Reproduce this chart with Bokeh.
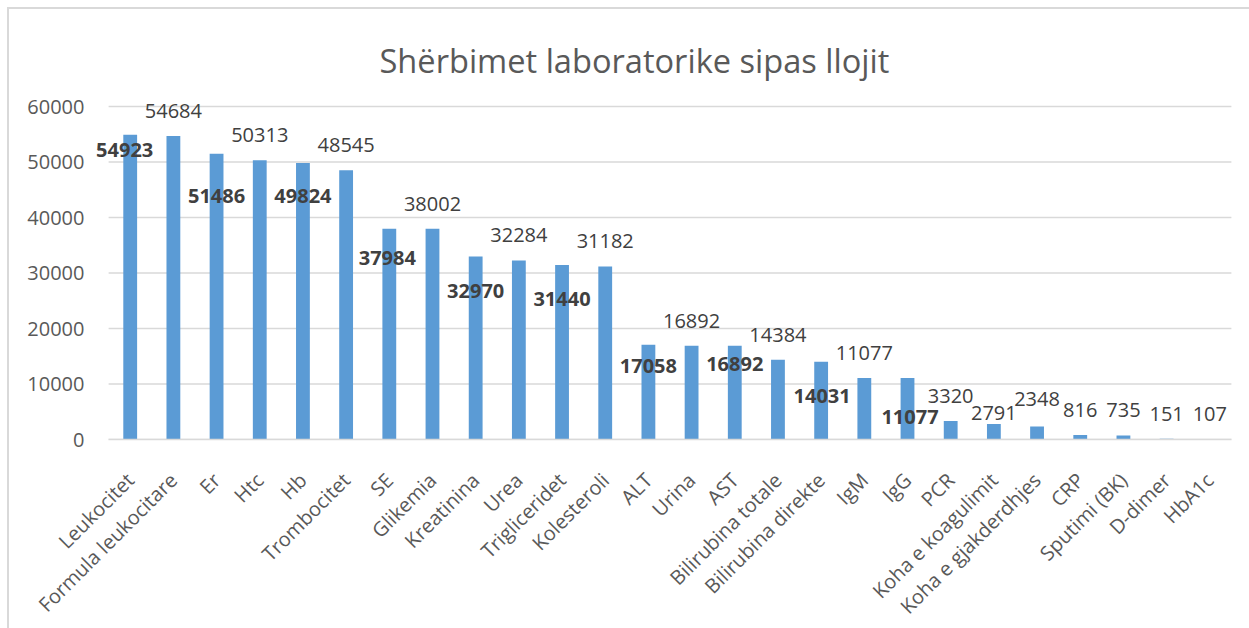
import math
from bokeh.plotting import figure
from bokeh.models import (ColumnDataSource, LabelSet, FixedTicker, NumeralTickFormatter,
                          FactorRange)
from bokeh.core.properties import value
from bokeh.embed import file_html
from bokeh.resources import INLINE

# ---- data ----
categories = ["Leukocitet", "Formula leukocitare", "Er", "Htc", "Hb", "Trombocitet",
              "SE", "Glikemia", "Kreatinina", "Urea", "Trigliceridet", "Kolesteroli",
              "ALT", "Urina", "AST", "Bilirubina totale", "Bilirubina direkte", "IgM",
              "IgG", "PCR", "Koha e koagulimit", "Koha e gjakderdhjes", "CRP",
              "Sputimi (BK)", "D-dimer", "HbA1c"]
counts = [54923, 54684, 51486, 50313, 49824, 48545, 37984, 38002, 32970, 32284,
          31440, 31182, 17058, 16892, 16892, 14384, 14031, 11077, 11077, 3320,
          2791, 2348, 816, 735, 151, 107]
bold_label_idx = [0, 2, 4, 6, 8, 10, 12, 14, 16, 18]
y_ticks = [0, 10000, 20000, 30000, 40000, 50000, 60000]
title_text = "Shërbimet laboratorike sipas llojit"

# ---- layout / style (pixel offsets of the data labels, + = down) ----
bold_dy = [15, 42, 32.5, 29, 34, 33.5, 21, 18, 34, 38.5]
bold_dx = [-5.5, 0, 0, -2, 0, 0, 0, 0, 1, 2.5]
FONT = "Open Sans"

normal_idx = [i for i in range(len(categories)) if i not in bold_label_idx]
normal_dy = []
for i in normal_idx:
    if categories[i] == "Koha e koagulimit":
        normal_dy.append(-11)
    elif categories[i] == "Koha e gjakderdhjes":
        normal_dy.append(-27)
    else:
        normal_dy.append(-25)

src = ColumnDataSource(dict(cat=categories, val=counts))
src_b = ColumnDataSource(dict(
    cat=[categories[i] for i in bold_label_idx],
    val=[counts[i] for i in bold_label_idx],
    txt=[str(counts[i]) for i in bold_label_idx],
    dy=[-d for d in bold_dy], dx=bold_dx))
src_n = ColumnDataSource(dict(
    cat=[categories[i] for i in normal_idx],
    val=[counts[i] for i in normal_idx],
    txt=[str(counts[i]) for i in normal_idx],
    dy=[-d for d in normal_dy]))
grid_src = ColumnDataSource(dict(
    x0=[(categories[0], -0.5)] * len(y_ticks),
    x1=[(categories[-1], 0.5)] * len(y_ticks),
    y=y_ticks))

x_range = FactorRange(factors=categories, range_padding=0.35,
                      range_padding_units="absolute")

# canvas starts at 9px (7px margin + 2px border)
p = figure(x_range=x_range, y_range=(0, 61100), frame_width=1153, frame_height=339,
           output_backend="svg", toolbar_location=None,
           min_border_left=84, min_border_right=3,
           min_border_top=91, min_border_bottom=150)
p.styles = {"margin-left": "7px", "margin-top": "7px",
            "border-top": "2px solid #d9d9d9", "border-left": "2px solid #d9d9d9"}
p.outline_line_color = None
p.background_fill_color = "white"
p.border_fill_color = "white"

# horizontal grid lines spanning only the category area
p.xgrid.grid_line_color = None
p.ygrid.grid_line_color = None
p.segment(x0="x0", x1="x1", y0="y", y1="y", source=grid_src,
          line_color="#d9d9d9", line_width=1.5)

p.vbar(x="cat", top="val", width=0.32, source=src, color="#5b9bd5", line_color=None)

p.add_layout(LabelSet(x="cat", y="val", text="txt", source=src_n, y_offset="dy",
                      text_align="center", text_baseline="middle",
                      text_font=value(FONT), text_font_size="20px",
                      text_color="#404040"))
p.add_layout(LabelSet(x="cat", y="val", text="txt", source=src_b,
                      y_offset="dy", x_offset="dx",
                      text_align="center", text_baseline="middle",
                      text_font=value(FONT), text_font_size="20px",
                      text_font_style="bold", text_color="#404040"))

# axes
p.yaxis.ticker = FixedTicker(ticks=y_ticks)
p.yaxis.formatter = NumeralTickFormatter(format="0")
p.yaxis.axis_line_color = None
p.yaxis.major_tick_line_color = None
p.yaxis.minor_tick_line_color = None
p.yaxis.major_label_standoff = 3
p.yaxis.major_label_text_font = FONT
p.yaxis.major_label_text_font_size = "20px"
p.yaxis.major_label_text_color = "#595959"

p.xaxis.bounds = (0, len(categories))
p.xaxis.axis_line_color = "#d9d9d9"
p.xaxis.axis_line_width = 1.5
p.xaxis.major_tick_line_color = None
p.xaxis.minor_tick_line_color = None
p.xaxis.major_label_orientation = math.pi / 4
p.xaxis.major_label_standoff = 31
p.xaxis.major_label_text_font = FONT
p.xaxis.major_label_text_font_size = "20px"
p.xaxis.major_label_text_color = "#595959"

# title
p.title.text = title_text
p.title.align = "left"
p.title.offset = 286
p.title.vertical_align = "top"
p.title.standoff = 32
p.title.text_font = FONT
p.title.text_font_size = "32.6px"
p.title.text_font_style = "normal"
p.title.text_color = "#595959"

open("out.html", "w").write(file_html(p, INLINE))
